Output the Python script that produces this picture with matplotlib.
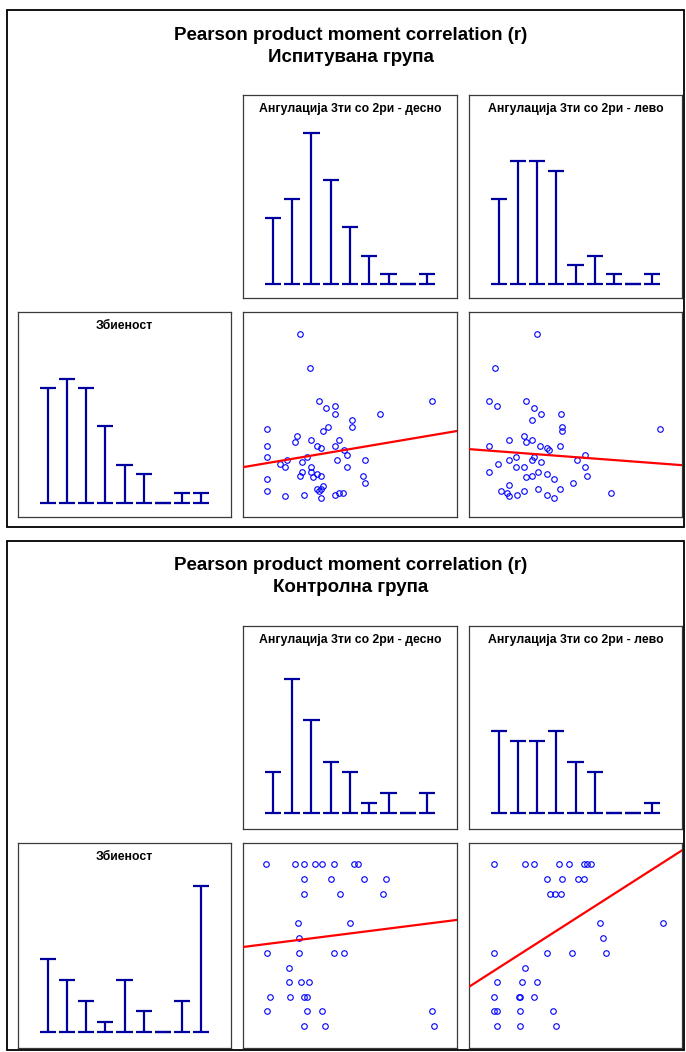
import numpy as np
import matplotlib
matplotlib.use("Agg")
import matplotlib.pyplot as plt
from matplotlib.patches import Rectangle

plt.rcParams['font.family'] = ['Liberation Sans', 'DejaVu Sans']

W, H = 686, 1052

# ---- data ----
title_main = "Pearson product moment correlation (r)"
groups = ["Испитувана група", "Контролна група"]
var_right = "Ангулација 3ти со 2ри - десно"
var_left = "Ангулација 3ти со 2ри - лево"
var_crowd = "Збиеност"

bins = np.arange(1, 10)

# histogram counts (9 bins each)
hist_test_right = [7, 9, 16, 11, 6, 3, 1, 0, 1]
hist_test_left = [9, 13, 13, 12, 2, 3, 1, 0, 1]
hist_test_crowd = [12, 13, 12, 8, 4, 3, 0, 1, 1]
hist_ctrl_right = [4, 13, 9, 5, 4, 1, 2, 0, 2]
hist_ctrl_left = [8, 7, 7, 8, 5, 4, 0, 0, 1]
hist_ctrl_crowd = [7, 5, 3, 1, 5, 2, 0, 3, 14]

# test group: angulation right (x) vs crowding (y)
test_right_x = [17.0, 20.1, 22.7, 24.8, 27.6, 27.6, 41.0, 56.5, 32.6, 32.6, 23.9, 25.4,
                7.1, 16.1, 15.5, 20.4, 22.0, 23.3, 28.8, 27.6, 30.3, 31.0, 7.1, 7.1,
                19.0, 17.6, 13.3, 11.2, 12.7, 28.2, 36.6, 20.4, 31.0, 17.6, 17.0, 20.4,
                21.0, 22.0, 23.3, 7.1, 36.0, 36.6, 7.1, 12.7, 18.3, 22.0, 23.3, 23.9,
                22.7, 23.3, 27.6, 28.8, 29.8]
test_right_y = [54.6, 44.7, 34.7, 32.5, 33.2, 30.7, 30.7, 34.7, 29.1, 26.9, 25.7, 26.9,
                26.2, 24.1, 22.5, 22.9, 21.3, 20.6, 22.9, 21.3, 20.1, 18.5, 21.3, 17.8,
                17.9, 16.3, 17.0, 15.7, 15.0, 17.0, 17.0, 15.0, 15.0, 13.5, 12.2, 13.5,
                11.9, 12.9, 12.2, 11.3, 12.2, 10.1, 7.9, 6.3, 6.6, 8.5, 8.5, 9.4,
                7.9, 5.7, 6.6, 7.2, 7.2]

# test group: angulation left (x) vs crowding (y)
test_left_x = [20.3, 7.9, 6.0, 16.9, 8.3, 19.4, 21.4, 27.5, 18.8, 27.8, 27.8, 57.0,
               16.3, 11.9, 16.9, 18.8, 6.0, 21.3, 23.2, 23.8, 27.2, 34.7, 13.9, 19.5,
               18.8, 11.9, 21.4, 32.2, 8.5, 13.9, 16.3, 34.7, 6.0, 20.7, 23.2, 18.8,
               16.9, 25.3, 35.3, 30.9, 11.9, 9.5, 11.3, 11.9, 14.4, 16.3, 20.7, 23.2,
               25.3, 27.2, 42.4]
test_left_y = [54.6, 44.7, 34.7, 34.7, 33.1, 32.5, 30.7, 30.7, 29.1, 26.9, 25.7, 26.3,
               24.1, 22.9, 22.5, 22.9, 21.3, 21.3, 20.7, 20.1, 21.3, 18.5, 17.9, 17.9,
               17.0, 17.0, 16.3, 17.0, 15.7, 15.0, 15.0, 15.0, 13.5, 13.5, 12.9, 12.3,
               11.9, 11.3, 12.3, 10.1, 9.5, 7.9, 7.3, 6.3, 6.6, 7.9, 8.5, 6.6,
               5.7, 8.5, 7.3]

# control group: crowding takes discrete levels
ctrl_levels = [54.9, 50.5, 46.1, 37.4, 32.8, 28.4, 24.0, 19.7, 15.3, 11.0, 6.6]
ctrl_right_rows = [[7.0, 15.5, 18.3, 21.6, 23.5, 27.3, 33.3, 34.5],
                   [18.3, 26.3, 36.3, 42.8],
                   [18.3, 29.1, 41.9],
                   [16.4, 31.9],
                   [16.7],
                   [7.1, 16.7, 27.3, 30.1],
                   [13.9],
                   [13.9, 17.3, 19.8],
                   [8.0, 14.2, 18.3, 19.0],
                   [7.1, 19.0, 23.5, 56.5],
                   [18.3, 24.5, 57.1]]
ctrl_left_rows = [[7.4, 16.7, 19.4, 26.9, 29.7, 34.2, 35.3, 36.3],
                  [23.2, 27.8, 32.5, 34.4],
                  [24.1, 25.7, 27.3],
                  [39.1, 57.7],
                  [39.9],
                  [7.4, 23.2, 30.7, 40.9],
                  [16.7],
                  [8.3, 15.8, 20.4],
                  [7.4, 14.8, 15.2, 19.4],
                  [7.4, 8.3, 15.2, 25.1],
                  [8.3, 15.2, 26.0]]

# regression lines (intercept, slope)
fit_test_right = (14.9, 0.169)
fit_test_left = (20.3, -0.0756)
fit_ctrl_right = (30.2, 0.1266)
fit_ctrl_left = (18.3, 0.6425)


def rows_to_xy(levels, rows):
    xs, ys = [], []
    for lv, r in zip(levels, rows):
        xs += r
        ys += [lv] * len(r)
    return xs, ys


ctrl_right_x, ctrl_right_y = rows_to_xy(ctrl_levels, ctrl_right_rows)
ctrl_left_x, ctrl_left_y = rows_to_xy(ctrl_levels, ctrl_left_rows)

BAR = '#0000A0'
SPINE = '#3a3a3a'

fig = plt.figure(figsize=(W / 100, H / 100), dpi=100)


def add_ax(x0, y0, x1, y1):
    ax = fig.add_axes([x0 / W, 1 - y1 / H, (x1 - x0) / W, (y1 - y0) / H])
    ax.set_xticks([])
    ax.set_yticks([])
    for s in ax.spines.values():
        s.set_color(SPINE)
        s.set_linewidth(0.9)
    return ax


def draw_hist(ax, counts, ytop, title):
    c = np.array(counts)
    w = 0.42
    ax.vlines(bins, 0, c, color=BAR, lw=1.6)
    ax.hlines(c, bins - w, bins + w, color=BAR, lw=1.6)
    ax.hlines(np.zeros_like(c), bins - w, bins + w, color=BAR, lw=1.6)
    ax.set_xlim(-0.545, 10.545)
    ax.set_ylim(-1.5, ytop)
    ax.text(0.5, 1 - 14 / 204, title, transform=ax.transAxes, ha='center', va='center',
            fontsize=8.8, fontweight='bold')


def draw_scatter(ax, x, y, fit, xmax):
    ax.plot(x, y, 'o', ms=4, mfc='none', mec='#0000FF', mew=0.8, zorder=2)
    ax.axline((0, fit[0]), slope=fit[1], color='#FF0000', lw=1.6, zorder=3)
    ax.set_xlim(0, xmax)
    ax.set_ylim(0, 61.3)


panels = [
    dict(top=10, bottom=527, group=groups[0], ytop=20.0,
         hr=hist_test_right, hl=hist_test_left, hc=hist_test_crowd,
         sr=(test_right_x, test_right_y, fit_test_right),
         sl=(test_left_x, test_left_y, fit_test_left)),
    dict(top=541, bottom=1050, group=groups[1], ytop=18.1,
         hr=hist_ctrl_right, hl=hist_ctrl_left, hc=hist_ctrl_crowd,
         sr=(ctrl_right_x, ctrl_right_y, fit_ctrl_right),
         sl=(ctrl_left_x, ctrl_left_y, fit_ctrl_left)),
]

for p in panels:
    t = p['top']
    fig.patches.append(Rectangle((7 / W, 1 - p['bottom'] / H), 677 / W, (p['bottom'] - t) / H,
                                 transform=fig.transFigure, fill=False, ec='black', lw=1.3))
    fig.text(351 / W, 1 - (t + 25) / H, title_main, ha='center', va='center',
             fontsize=13.5, fontweight='bold')
    fig.text(351 / W, 1 - (t + 47) / H, p['group'], ha='center', va='center',
             fontsize=13.5, fontweight='bold')

    r1 = t + 85
    r2 = r1 + 217
    draw_hist(add_ax(243, r1, 457, r1 + 203), p['hr'], p['ytop'], var_right)
    draw_hist(add_ax(469, r1, 682, r1 + 203), p['hl'], p['ytop'], var_left)
    draw_hist(add_ax(18, r2, 231, r2 + 205), p['hc'], p['ytop'], var_crowd)
    draw_scatter(add_ax(243, r2, 457, r2 + 205), *p['sr'], 64)
    draw_scatter(add_ax(469, r2, 682, r2 + 205), *p['sl'], 63.5)

fig.savefig("out.png", dpi=100)
